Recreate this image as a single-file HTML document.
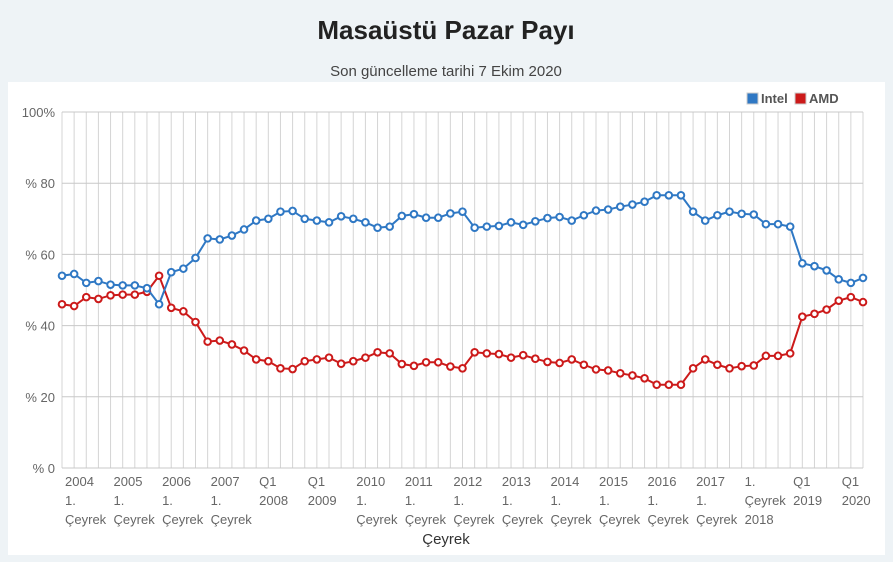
<!DOCTYPE html>
<html><head><meta charset="utf-8"><style>
html,body{margin:0;overflow:hidden;background:#eef3f6;font-family:"Liberation Sans",sans-serif;}
svg{display:block}
</style></head><body>
<svg id="s" width="893" height="562" xmlns="http://www.w3.org/2000/svg" font-family="Liberation Sans, sans-serif">
<rect x="0" y="0" width="893" height="562" fill="#eef3f6"/>
<rect x="8" y="82" width="877" height="473" fill="#fff"/>
<text x="446" y="39" text-anchor="middle" font-size="26" font-weight="bold" fill="#222">Masaüstü Pazar Payı</text>
<text x="446" y="76" text-anchor="middle" font-size="15" fill="#444">Son güncelleme tarihi 7 Ekim 2020</text>
<rect x="747" y="93" width="11" height="11" fill="#2f78c4" stroke="#ccc"/>
<text x="761" y="103" font-size="13" font-weight="bold" fill="#555">Intel</text>
<rect x="795" y="93" width="11" height="11" fill="#cc1a1a" stroke="#ccc"/>
<text x="809" y="103" font-size="13" font-weight="bold" fill="#555">AMD</text>
<g id="g"></g>
<text x="446" y="544" text-anchor="middle" font-size="15" fill="#333">Çeyrek</text>
</svg>
<script>
const intel=[54,54.5,52,52.5,51.5,51.3,51.3,50.5,46,55,56,59,64.5,64.2,65.3,67,69.5,70,72,72.2,70,69.5,69,70.7,70,69,67.5,67.8,70.8,71.3,70.3,70.3,71.5,72,67.5,67.8,68,69,68.3,69.3,70.2,70.5,69.5,71,72.3,72.6,73.4,74.8,76.6,76.6,76.6,72,69.5,71,72,71.4,71.2,68.5,68.5,67.8,57.5,56.7,55.5,53,52,53.4];
while(intel.length<67)intel.splice(47,0,74);
const amd=intel.map(v=>100-v);
const X=i=>62+i*(801/66), Y=v=>468-v*3.56;
let h='';
for(let i=0;i<67;i++)h+=`<line x1="${X(i)}" y1="112" x2="${X(i)}" y2="468" stroke="#d4d4d4"/>`;
for(let k=0;k<=5;k++){const y=Y(k*20);h+=`<line x1="62" y1="${y}" x2="863" y2="${y}" stroke="#c8c8c8"/>`;
h+=`<text x="55" y="${y+5}" text-anchor="end" font-size="13" fill="#666">${k==5?'100%':'% '+k*20}</text>`;}
const labs=[["2004","1.","Çeyrek"],["2005","1.","Çeyrek"],["2006","1.","Çeyrek"],["2007","1.","Çeyrek"],["Q1","2008",""],["Q1","2009",""],["2010","1.","Çeyrek"],["2011","1.","Çeyrek"],["2012","1.","Çeyrek"],["2013","1.","Çeyrek"],["2014","1.","Çeyrek"],["2015","1.","Çeyrek"],["2016","1.","Çeyrek"],["2017","1.","Çeyrek"],["1.","Çeyrek","2018"],["Q1","2019",""],["Q1","2020",""]];
labs.forEach((l,j)=>{const x=X(j*4)+3;l.forEach((t,r)=>{h+=`<text x="${x}" y="${486+r*19}" font-size="13" fill="#666">${t}</text>`;});});
function ser(d,c){let p=d.map((v,i)=>`${X(i)},${Y(v)}`).join(' ');let s=`<polyline points="${p}" fill="none" stroke="${c}" stroke-width="2"/>`;
d.forEach((v,i)=>s+=`<circle cx="${X(i)}" cy="${Y(v)}" r="3.3" fill="#fff" stroke="${c}" stroke-width="2"/>`);return s;}
h+=ser(amd,'#cc1a1a')+ser(intel,'#2f78c4');
document.getElementById('g').innerHTML=h;
</script>
</body></html>
